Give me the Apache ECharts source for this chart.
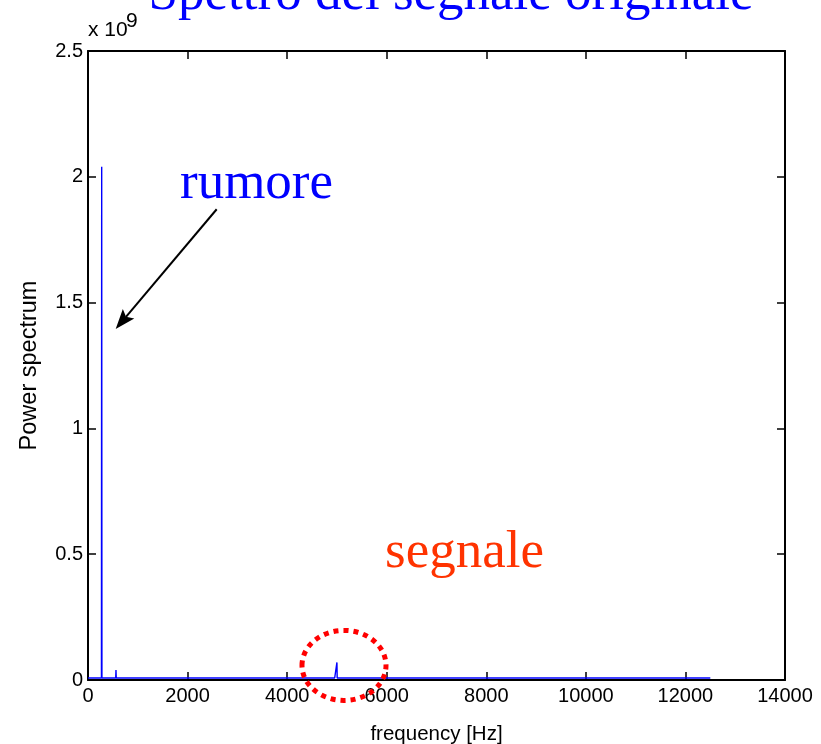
<!DOCTYPE html>
<html>
<head>
<meta charset="utf-8">
<script src="https://cdn.jsdelivr.net/npm/echarts@6/dist/echarts.min.js"></script>
<style>html,body{margin:0;padding:0;background:#fff;}#c{width:821px;height:744px;}</style>
</head>
<body>
<div id="c"></div>
<script>
// Spectrum (frequency in Hz, power in units of 1e9)
const freqHz = [0, 270, 275, 280, 557, 562, 567, 850, 855, 860, 4955, 4960, 4965, 4995, 5000, 5005, 12500];
const powerE9 = [0.008, 0.008, 2.04, 0.008, 0.008, 0.04, 0.008, 0.008, 0.014, 0.008, 0.008, 0.014, 0.008, 0.008, 0.07, 0.008, 0.008];
const xTicks = [0, 2000, 4000, 6000, 8000, 10000, 12000, 14000];
const yTicks = [0, 0.5, 1, 1.5, 2, 2.5];

const titleText = 'Spettro del segnale originale';
const noiseLabel = 'rumore';
const signalLabel = 'segnale';
const xName = 'frequency [Hz]';
const yName = 'Power spectrum';

const chart = echarts.init(document.getElementById('c'), null, {renderer: 'canvas'});
const axisFont = {fontFamily: 'Liberation Sans', fontSize: 20, color: '#000'};
const lineSty = {color: '#000', width: 2};
const tickSty = {color: '#000', width: 1.5};
const fmt = v => String(v);

chart.setOption({
  animation: false,
  backgroundColor: '#fff',
  grid: {left: 88, right: 36, top: 51, bottom: 64, containLabel: false, outerBoundsMode: 'none'},
  xAxis: [{
    type: 'value', min: xTicks[0], max: xTicks[xTicks.length - 1], interval: 2000,
    position: 'bottom',
    axisLine: {show: true, onZero: false, lineStyle: lineSty},
    axisTick: {show: true, inside: true, length: 8, lineStyle: tickSty},
    axisLabel: Object.assign({margin: 6, formatter: fmt}, axisFont),
    splitLine: {show: false},
    name: xName, nameLocation: 'middle', nameGap: 44,
    nameTextStyle: {fontFamily: 'Liberation Sans', fontSize: 20.5, color: '#000'}
  }, {
    type: 'value', min: xTicks[0], max: xTicks[xTicks.length - 1], interval: 2000,
    position: 'top',
    axisLine: {show: true, onZero: false, lineStyle: lineSty},
    axisTick: {show: true, inside: true, length: 8, lineStyle: tickSty},
    axisLabel: {show: false}, splitLine: {show: false}
  }],
  yAxis: [{
    type: 'value', min: yTicks[0], max: yTicks[yTicks.length - 1], interval: 0.5,
    position: 'left',
    axisLine: {show: true, onZero: false, lineStyle: lineSty},
    axisTick: {show: true, inside: true, length: 8, lineStyle: tickSty},
    axisLabel: Object.assign({margin: 5, formatter: fmt}, axisFont),
    splitLine: {show: false},
    name: yName, nameLocation: 'middle', nameGap: 46,
    nameTextStyle: {fontFamily: 'Liberation Sans', fontSize: 23.5, color: '#000'}
  }, {
    type: 'value', min: yTicks[0], max: yTicks[yTicks.length - 1], interval: 0.5,
    position: 'right',
    axisLine: {show: true, onZero: false, lineStyle: lineSty},
    axisTick: {show: true, inside: true, length: 8, lineStyle: tickSty},
    axisLabel: {show: false}, splitLine: {show: false}
  }],
  series: [{
    type: 'line',
    xAxisIndex: 0, yAxisIndex: 0,
    data: freqHz.map((f, i) => [f, powerE9[i]]),
    showSymbol: false, symbol: 'none',
    sampling: null,
    lineStyle: {color: '#0000ff', width: 1.4},
    z: 1
  }]
});

// annotation anchors (data coordinates)
const arrowFrom = [2585, 1.871];
const arrowTo = [556, 1.395];
const circleCenter = [5142, 0.058];

function px(p) { return chart.convertToPixel({xAxisIndex: 0, yAxisIndex: 0}, p); }
const a0 = px(arrowFrom), a1 = px(arrowTo), cc = px(circleCenter);
const dx = a1[0] - a0[0], dy = a1[1] - a0[1];
const len = Math.hypot(dx, dy), ux = dx / len, uy = dy / len;
const headL = 20, headW = 7.5;
const bx = a1[0] - ux * headL, by = a1[1] - uy * headL;
const nx = a1[0] - ux * headL * 0.8, ny = a1[1] - uy * headL * 0.8;

chart.setOption({
  graphic: [
    {type: 'text', style: {
      text: titleText, x: 451, y: -4.5, align: 'center', verticalAlign: 'middle',
      fill: '#0000ff', font: '53px "Liberation Serif"'}},
    {type: 'text', style: {text: 'x 10', x: 88, y: 30, verticalAlign: 'middle',
      fill: '#000', font: '21px "Liberation Sans"'}},
    {type: 'text', style: {text: '9', x: 126, y: 21, verticalAlign: 'middle',
      fill: '#000', font: '21px "Liberation Sans"'}},
    {type: 'text', style: {text: noiseLabel, x: 180, y: 184, verticalAlign: 'middle',
      fill: '#0000ff', font: '53px "Liberation Serif"'}},
    {type: 'text', style: {text: signalLabel, x: 385, y: 553, verticalAlign: 'middle',
      fill: '#ff3300', font: '53px "Liberation Serif"'}},
    {type: 'line', shape: {x1: a0[0], y1: a0[1], x2: nx, y2: ny},
      style: {stroke: '#000', lineWidth: 2}},
    {type: 'polygon', shape: {points: [
      [a1[0], a1[1]],
      [bx - uy * headW, by + ux * headW],
      [nx, ny],
      [bx + uy * headW, by - ux * headW]
    ]}, style: {fill: '#000'}},
    {type: 'ellipse', shape: {cx: cc[0], cy: cc[1], rx: 42, ry: 35},
      style: {fill: 'none', stroke: '#ff0000', lineWidth: 5, lineDash: [5, 5]}, z: 100}
  ]
});
</script>
</body>
</html>
